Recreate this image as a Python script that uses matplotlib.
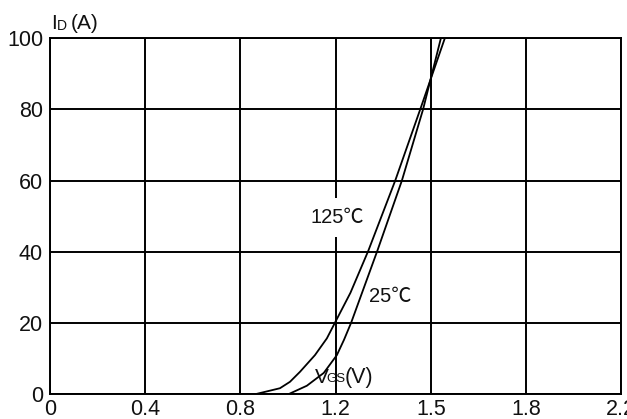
import matplotlib.pyplot as plt
import numpy as np

# transfer characteristics
# x is in grid units of 0.4 per division (the datasheet labels are uneven)
vgs_125 = [0.861, 0.966, 1.008, 1.050, 1.113, 1.163, 1.197, 1.262, 1.337,
           1.450, 1.555, 1.660]
id_125 = [0, 1.7, 3.5, 6.3, 11.0, 15.7, 20.1, 28.5, 40.3,
          60.0, 80.0, 100.3]

vgs_25 = [1.001, 1.079, 1.150, 1.205, 1.235, 1.265, 1.375, 1.478, 1.567, 1.643]
id_25 = [0, 2.4, 6.0, 11.0, 15.3, 20.1, 40.3, 60.0, 80.0, 100.3]

x_ticks = [0, 0.4, 0.8, 1.2, 1.6, 2.0, 2.4]
x_labels = ['0', '0.4', '0.8', '1.2', '1.5', '1.8', '2.2']
y_ticks = [0, 20, 40, 60, 80, 100]

plt.rcParams['font.family'] = ['Liberation Sans', 'Noto Sans CJK SC', 'DejaVu Sans']
txt = '#111111'

fig = plt.figure(figsize=(6.27, 4.19), dpi=100)
ax = fig.add_axes([0.0797, 0.059, 0.9113, 0.8496])

ax.plot(vgs_125, id_125, color='k', lw=1.3, zorder=3, solid_joinstyle='round')
ax.plot(vgs_25, id_25, color='k', lw=1.3, zorder=3, solid_joinstyle='round')

ax.set_xlim(0, 2.4)
ax.set_ylim(0, 100)
ax.set_xticks(x_ticks)
ax.set_xticklabels(x_labels)
ax.set_yticks(y_ticks)
ax.set_axisbelow(True)
ax.grid(True, color='k', lw=1.4)
ax.tick_params(length=0, labelsize=15.5, labelcolor=txt)
ax.tick_params(axis='x', pad=3.5)
ax.tick_params(axis='y', pad=5)
for s in ax.spines.values():
    s.set_linewidth(1.4)

# curve labels (white box hides the grid behind them)
ax.text(1.205, 49.7, '125℃', fontsize=14.5, color=txt, ha='center', va='center',
        zorder=2.5, bbox=dict(facecolor='white', edgecolor='none', pad=7))
ax.text(1.429, 27.5, '25℃', fontsize=14.5, color=txt, ha='center', va='center', zorder=2.5)

# axis titles written inside the chart, datasheet style
ax.text(1.112, 4.7, 'V', fontsize=15, color=txt, ha='left', va='center', zorder=2.5,
        bbox=dict(facecolor='white', edgecolor='none', pad=5))
ax.annotate('GS', xy=(1.112, 4.7), xytext=(8.6, -1), textcoords='offset points',
            fontsize=9.5, color=txt, ha='left', va='center', zorder=2.6)
ax.annotate('(V)', xy=(1.112, 4.7), xytext=(21.5, 0), textcoords='offset points',
            fontsize=15.5, color=txt, ha='left', va='center', zorder=2.6)

fig.text(0.0822, 0.943, 'I', fontsize=15, color=txt, ha='left', va='center')
fig.text(0.0900, 0.939, 'D', fontsize=10, color=txt, ha='left', va='center')
fig.text(0.1135, 0.943, '(A)', fontsize=15, color=txt, ha='left', va='center')

fig.savefig('out.png', dpi=100)
